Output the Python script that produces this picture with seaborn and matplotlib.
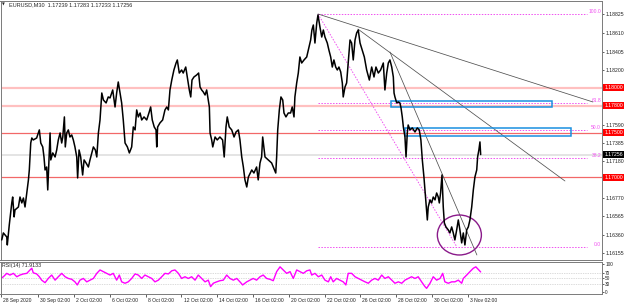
import seaborn as sns
import matplotlib.pyplot as plt
import matplotlib.transforms as mtransforms
from matplotlib.patches import Rectangle, Ellipse

# EURUSD M30 closes, x = trading days since 28 Sep 2020 00:00
days = [0.04, 0.13, 0.32, 0.35, 0.46, 0.60, 0.65, 0.73, 0.78, 0.97, 1.06, 1.16, 1.25, 1.34, 1.44,
        1.53, 1.58, 1.66, 1.72, 1.80, 1.99, 2.14, 2.22, 2.33, 2.40, 2.46, 2.55, 2.61, 2.68, 2.74,
        2.78, 2.89, 3.02, 3.11, 3.20, 3.30, 3.39, 3.45, 3.54, 3.59, 3.67, 3.76, 3.85, 3.95, 4.04,
        4.13, 4.23, 4.28, 4.36, 4.45, 4.56, 4.64, 4.75, 4.88, 4.97, 5.16, 5.27, 5.35, 5.44, 5.53,
        5.63, 5.72, 5.87, 5.99, 6.09, 6.24, 6.37, 6.46, 6.55, 6.65, 6.74, 6.83, 6.93, 7.06, 7.17,
        7.30, 7.39, 7.49, 7.58, 7.67, 7.77, 7.86, 7.99, 8.14, 8.28, 8.36, 8.45, 8.56, 8.66, 8.70,
        8.75, 8.88, 9.03, 9.16, 9.26, 9.35, 9.44, 9.54, 9.66, 9.78, 9.85, 9.96, 10.09, 10.18, 10.32,
        10.43, 10.52, 10.60, 10.67, 10.78, 10.93, 11.04, 11.12, 11.21, 11.30, 11.40, 11.49, 11.58,
        11.64, 11.68, 11.77, 11.83, 11.96, 12.08, 12.23, 12.38, 12.47, 12.57, 12.64, 12.75, 12.89,
        13.02, 13.13, 13.26, 13.35, 13.45, 13.54, 13.63, 13.73, 13.82, 14.01, 14.13, 14.28, 14.37,
        14.47, 14.56, 14.62, 14.75, 14.93, 15.12, 15.21, 15.35, 15.40, 15.46, 15.55, 15.64, 15.74,
        15.81, 15.92, 16.05, 16.18, 16.27, 16.37, 16.42, 16.52, 16.61, 16.70, 16.80, 16.93, 17.08,
        17.21, 17.30, 17.37, 17.45, 17.54, 17.64, 17.71, 17.82, 17.92, 18.01, 18.10, 18.23, 18.32,
        18.42, 18.51, 18.60, 18.70, 18.79, 18.88, 18.98, 19.07, 19.12, 19.22, 19.31, 19.40, 19.50,
        19.59, 19.68, 19.78, 19.87, 19.96, 20.06, 20.18, 20.30, 20.43, 20.58, 20.71, 20.84, 20.95,
        21.08, 21.21, 21.36, 21.45, 21.55, 21.64, 21.73, 21.83, 21.92, 21.96, 22.01, 22.11, 22.20,
        22.29, 22.35, 22.42, 22.48, 22.57, 22.63, 22.70, 22.75, 22.85, 22.98, 23.13, 23.26, 23.37,
        23.46, 23.54, 23.63, 23.73, 23.82, 23.87, 23.97, 24.06, 24.15, 24.25, 24.34, 24.43, 24.49,
        24.56, 24.64, 24.71, 24.77, 24.86, 24.99, 25.08, 25.18, 25.27, 25.36, 25.46, 25.55, 25.64,
        25.74, 25.83, 25.92, 26.02, 26.11, 26.20, 26.30, 26.39, 26.48, 26.58, 26.63, 26.70, 26.76,
        26.80]
close = [1.16303, 1.16381, 1.16336, 1.16247, 1.16470, 1.16716, 1.16782, 1.16560, 1.16638, 1.16671,
         1.16782, 1.16716, 1.16771, 1.16671, 1.16827, 1.16973, 1.17084, 1.17385, 1.17441, 1.17419,
         1.17441, 1.17531, 1.17385, 1.17341, 1.17229, 1.17084, 1.17117, 1.16861, 1.17196, 1.17497,
         1.17196, 1.17274, 1.17229, 1.17307, 1.17419, 1.17497, 1.17385, 1.17452, 1.17676, 1.17341,
         1.17497, 1.17531, 1.17452, 1.17475, 1.17419, 1.17341, 1.17229, 1.16995, 1.17307, 1.17229,
         1.17028, 1.17196, 1.17162, 1.17117, 1.17196, 1.17341, 1.17307, 1.17229, 1.17497, 1.17642,
         1.17943, 1.17865, 1.17832, 1.17899, 1.17888, 1.17977, 1.17787, 1.17943, 1.18066, 1.17943,
         1.17832, 1.17642, 1.17385, 1.17341, 1.17274, 1.17341, 1.17564, 1.17531, 1.17754, 1.17676,
         1.17720, 1.17642, 1.17676, 1.17642, 1.17731, 1.17787, 1.17642, 1.17564, 1.17531, 1.17341,
         1.17564, 1.17609, 1.17642, 1.17754, 1.17787, 1.17754, 1.17977, 1.18088, 1.18200, 1.18278,
         1.18312, 1.18166, 1.18200, 1.18166, 1.18233, 1.18088, 1.17977, 1.17899, 1.18088, 1.18122,
         1.18144, 1.18166, 1.18010, 1.17977, 1.17955, 1.17921, 1.17977, 1.17865, 1.17787, 1.17497,
         1.17419, 1.17341, 1.17452, 1.17419, 1.17452, 1.17419, 1.17229, 1.17564, 1.17676, 1.17564,
         1.17531, 1.17452, 1.17508, 1.17531, 1.17419, 1.17229, 1.17117, 1.16973, 1.16894, 1.17006,
         1.17084, 1.17050, 1.17117, 1.16973, 1.17162, 1.17229, 1.17452, 1.17229, 1.17196, 1.17162,
         1.17117, 1.17050, 1.17229, 1.17531, 1.17754, 1.17899, 1.17865, 1.17720, 1.17676, 1.17720,
         1.17720, 1.17787, 1.17676, 1.17899, 1.18055, 1.18166, 1.18345, 1.18278, 1.18312, 1.18345,
         1.18457, 1.18535, 1.18646, 1.18702, 1.18501, 1.18724, 1.18814, 1.18680, 1.18568, 1.18646,
         1.18568, 1.18501, 1.18423, 1.18345, 1.18233, 1.18312, 1.18233, 1.18200, 1.18233, 1.18178,
         1.18055, 1.17899, 1.18010, 1.18055, 1.18278, 1.18535, 1.18501, 1.18312, 1.18535, 1.18613,
         1.18646, 1.18501, 1.18423, 1.18345, 1.18200, 1.18088, 1.18233, 1.18122, 1.18233, 1.18166,
         1.18200, 1.18278, 1.17977, 1.18166, 1.18278, 1.18312, 1.18233, 1.18122, 1.17943, 1.17899,
         1.17832, 1.17843, 1.17832, 1.17776, 1.17676, 1.17564, 1.17452, 1.17229, 1.17497, 1.17586,
         1.17531, 1.17553, 1.17508, 1.17553, 1.17531, 1.17419, 1.17196, 1.17006, 1.16750, 1.16526,
         1.16671, 1.16750, 1.16716, 1.16782, 1.16750, 1.16827, 1.16782, 1.16716, 1.16827, 1.17028,
         1.16671, 1.16493, 1.16448, 1.16415, 1.16381, 1.16448, 1.16381, 1.16303, 1.16415, 1.16526,
         1.16415, 1.16270, 1.16381, 1.16247, 1.16415, 1.16448, 1.16526, 1.16671, 1.16861, 1.17006,
         1.17084, 1.17229, 1.17307, 1.17397, 1.17256]

rsi_days = [0.00, 0.13, 0.32, 0.50, 0.69, 0.88, 1.06, 1.25, 1.44, 1.62, 1.72, 1.80, 1.99, 2.14, 2.27,
            2.46, 2.64, 2.83, 3.02, 3.20, 3.39, 3.58, 3.76, 3.95, 4.13, 4.26, 4.41, 4.60, 4.79, 4.97,
            5.16, 5.35, 5.53, 5.72, 5.91, 6.09, 6.27, 6.46, 6.61, 6.74, 6.93, 7.11, 7.30, 7.49, 7.67,
            7.86, 8.04, 8.23, 8.42, 8.60, 8.79, 8.98, 9.16, 9.35, 9.54, 9.72, 9.91, 10.09, 10.28, 10.46,
            10.65, 10.84, 11.02, 11.21, 11.40, 11.58, 11.71, 11.86, 12.05, 12.23, 12.42, 12.61, 12.79,
            12.98, 13.17, 13.35, 13.50, 13.73, 13.91, 14.09, 14.28, 14.47, 14.65, 14.84, 15.03, 15.21,
            15.40, 15.59, 15.77, 15.96, 16.15, 16.33, 16.52, 16.70, 16.89, 17.08, 17.26, 17.36, 17.54,
            17.73, 17.92, 18.10, 18.29, 18.42, 18.56, 18.75, 18.94, 19.12, 19.27, 19.40, 19.59, 19.78,
            19.96, 20.15, 20.34, 20.52, 20.71, 20.89, 21.08, 21.27, 21.45, 21.64, 21.83, 22.01, 22.20,
            22.39, 22.57, 22.75, 22.94, 23.13, 23.31, 23.50, 23.69, 23.78, 23.97, 24.15, 24.34, 24.53,
            24.68, 24.80, 24.99, 25.18, 25.36, 25.55, 25.74, 25.83, 26.02, 26.20, 26.39, 26.53, 26.70,
            26.80]
rsi_vals = [49, 55, 67, 61, 67, 55, 61, 65, 67, 79, 85, 69, 65, 55, 43,
            34, 49, 61, 43, 55, 67, 55, 49, 46, 37, 26, 43, 49, 37, 43,
            49, 67, 79, 73, 67, 61, 67, 43, 61, 37, 32, 37, 49, 65, 61,
            49, 61, 55, 49, 37, 43, 55, 67, 65, 76, 79, 67, 49, 55, 49,
            55, 43, 61, 49, 37, 43, 20, 32, 37, 41, 43, 61, 49,
            43, 49, 37, 26, 37, 43, 49, 43, 55, 61, 49, 46, 41,
            73, 90, 79, 67, 73, 49, 79, 73, 67, 76, 79, 61, 67,
            55, 61, 43, 37, 55, 37, 49, 43, 37, 26, 67, 67, 55,
            49, 43, 37, 32, 43, 49, 43, 61, 49, 55, 43, 32, 37,
            32, 43, 49, 55, 49, 55, 37, 20, 14, 32, 55, 43, 49,
            67, 37, 32, 37, 37, 43, 32, 49, 61, 73, 85, 90, 79,
            72]

price_ticks = [1.16155, 1.16360, 1.16565, 1.16770, 1.17180, 1.17385, 1.17590,
               1.18200, 1.18405, 1.18610, 1.18825]
strong_levels = [1.17500, 1.17000]
soft_levels = [1.18000, 1.17800]
last_price = 1.17256

fib_pcts = [100.0, 61.8, 50.0, 38.2, 0.0]
fib_high, fib_low = 1.18825, 1.16225
fib_x0, fib_x1, fib_low_x = 17.71, 32.75, 25.47

zones = [(21.79, 30.78, 1.17791, 1.17854), (22.57, 31.83, 1.17464, 1.17550)]
trend_lines = [((17.71, 33.07), (1.18825, 1.17843)),
               ((19.94, 31.51), (1.18657, 1.16961)),
               ((21.73, 26.59), (1.18401, 1.16135))]
circle = (25.61, 1.16358, 2.46, 0.00446)

date_ticks = [0, 2.08, 4.08, 6.08, 8.08, 10.08, 12.08, 14.08, 16.08, 18.08, 20.08, 22.08, 24.08, 26.08]
date_labels = ['28 Sep 2020', '30 Sep 02:00', '2 Oct 02:00', '6 Oct 02:00', '8 Oct 02:00',
               '12 Oct 02:00', '14 Oct 02:00', '16 Oct 02:00', '20 Oct 02:00', '22 Oct 02:00',
               '26 Oct 02:00', '28 Oct 02:00', '30 Oct 02:00', '3 Nov 02:00']

sns.set_style('white')
FONT = ['Liberation Sans', 'DejaVu Sans']
plt.rcParams['font.family'] = FONT

W, H = 625, 304
fig = plt.figure(figsize=(6.25, 3.04), dpi=100)
ax = fig.add_axes([0.5 / W, 1 - 260 / H, 601.5 / W, 259 / H])
rax = fig.add_axes([0.5 / W, 1 - 293.7 / H, 601.5 / W, 31.7 / H], sharex=ax)

XMAX = 33.58
for level in soft_levels:
    ax.axhline(level, color='#ffc0c0', lw=1.6, zorder=1)
for level in strong_levels:
    ax.axhline(level, color='#f26868', lw=0.9, zorder=1)
ax.axhline(last_price, color='#e4e4e4', lw=1.4, zorder=1)

# fibonacci retracement
fib_col = '#f050f0'
ax.plot([fib_x0, fib_low_x], [fib_high, fib_low], color=fib_col, lw=0.7, ls=(0, (1.5, 1.5)), zorder=2)
for pct in fib_pcts:
    lv = fib_low + pct / 100 * (fib_high - fib_low)
    ax.plot([fib_x0, fib_x1], [lv, lv], color=fib_col, lw=0.7, ls=(0, (1.5, 1.5)), zorder=2)
    ax.text(XMAX - 0.05, lv, '%.1f' % pct, color=fib_col, fontsize=3.6, ha='right', va='bottom')

for (x0, x1), (y0, y1) in trend_lines:
    ax.plot([x0, x1], [y0, y1], color='#505050', lw=0.55, zorder=3)

for x0, x1, y0, y1 in zones:
    ax.add_patch(Rectangle((x0, y0), x1 - x0, y1 - y0, fill=False, ec='#1a90e0', lw=1.1, zorder=4))

cx, cy, cw, ch = circle
ax.add_patch(Ellipse((cx, cy), cw, ch, fill=False, ec='#8a1a8a', lw=1.0, zorder=4))

sns.lineplot(x=days, y=close, ax=ax, color='black', lw=1.1, sort=False, estimator=None, zorder=5)

ax.set_xlim(-0.03, XMAX)
ax.set_ylim(1.16079, 1.18970)
ax.yaxis.tick_right()
ax.set_yticks(price_ticks)
ax.set_yticklabels(['%.5f' % t for t in price_ticks])
ax.tick_params(axis='y', right=True, length=1.5, width=0.5, pad=0.8, labelsize=3.7, colors='#202020')
ax.tick_params(axis='x', bottom=False, labelbottom=False)
ax.set_xlabel('')
ax.set_ylabel('')

for level, fc in [(soft_levels[0], 'red'), (soft_levels[1], 'red'), (strong_levels[0], 'red'),
                  (strong_levels[1], 'red'), (last_price, 'black')]:
    ax.annotate('%.5f' % level, xy=(1.0, level), xycoords=('axes fraction', 'data'),
                xytext=(1.6, 0), textcoords='offset points', ha='left', va='center',
                fontsize=3.7, color='white',
                bbox=dict(boxstyle='square,pad=0.2', fc=fc, ec='none'))

# RSI window
for lv in [70, 50, 30]:
    rax.axhline(lv, color='#b8b8b8', lw=0.5, ls=(0, (1, 1.5)))
sns.lineplot(x=rsi_days, y=rsi_vals, ax=rax, color='#ff00ff', lw=1.0, sort=False, estimator=None)
rax.set_ylim(-4.9, 107.1)
rax.yaxis.tick_right()
rax.set_yticks([100, 70, 50, 30, 0])
rax.set_yticklabels(['100', '70', '50', '30', '0'])
rax.tick_params(axis='y', right=True, length=1.5, width=0.5, pad=0.8, labelsize=3.4, colors='#202020')
rax.set_xticks(date_ticks)
rax.set_xticklabels(date_labels)
rax.tick_params(axis='x', bottom=True, length=2, width=0.5, pad=0.8, labelsize=3.6, colors='#202020')
off = mtransforms.ScaledTranslation(1.5 / 72, 0, fig.dpi_scale_trans)
for lbl in rax.get_xticklabels():
    lbl.set_horizontalalignment('left')
    lbl.set_transform(lbl.get_transform() + off)
rax.set_xlabel('')
rax.set_ylabel('')
rax.text(0.003, 0.97, 'RSI(14) 71.9133', transform=rax.transAxes, fontsize=3.8, va='top', ha='left')

for a in (ax, rax):
    for s in a.spines.values():
        s.set_color('#7a7a7a')
        s.set_linewidth(0.7)

fig.text(2 / W, 1 - 5 / H, '▼', fontsize=2.6, va='center', ha='left', family='DejaVu Sans')
fig.text(9 / W, 1 - 5 / H, 'EURUSD,M30  1.17239 1.17283 1.17233 1.17256', fontsize=4,
         va='center', ha='left')

fig.savefig('out.png', dpi=100, facecolor='white')
